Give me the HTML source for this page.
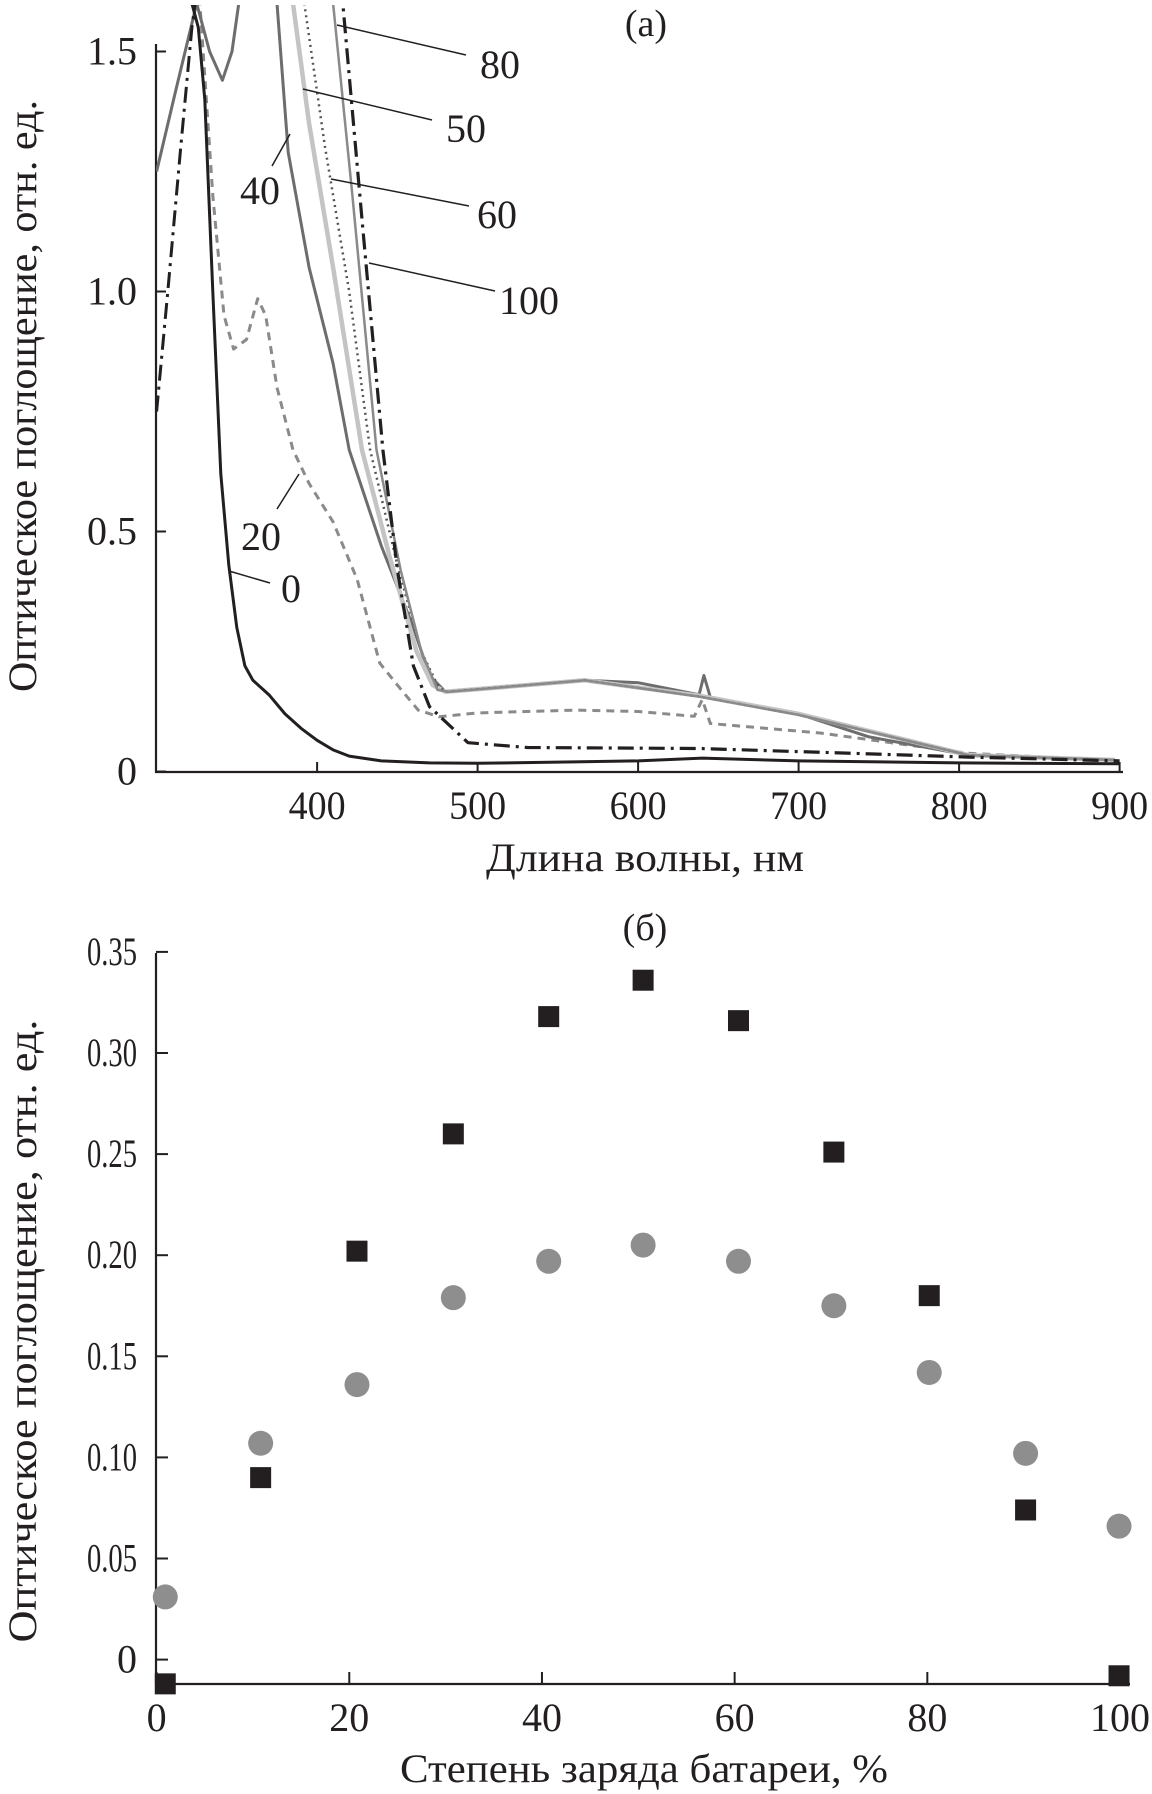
<!DOCTYPE html>
<html><head><meta charset="utf-8"><style>
html,body{margin:0;padding:0;background:#fff}
svg{display:block}
text{font-family:"Liberation Serif",serif;fill:#231f20}
</style></head><body>
<svg id="s" width="1152" height="1794" viewBox="0 0 1152 1794" xmlns="http://www.w3.org/2000/svg">
<defs><clipPath id="clipA"><rect x="156" y="5" width="968" height="767"/></clipPath></defs>
<g id="chartA"></g>
<g id="chartB"></g>
</svg>
<script>
// ---- Chart (a) data: wavelength (nm) and absorbance ----
const wl0 = [300,315,322,326,330,335,340,345,350,355,360,370,380,390,400,410,420,440,470,500,560,600,640,700,800,900];
const ab0 = [1.7,1.7,1.6,1.55,1.4,1.0,0.62,0.43,0.3,0.22,0.19,0.16,0.12,0.09,0.065,0.045,0.032,0.022,0.018,0.017,0.02,0.022,0.028,0.022,0.018,0.016];
const wl20 = [312,320,327,335,342,348,356,363,368,375,385,395,410,425,439,450,463,476,500,561,600,635,640,645,714,806,900];
const ab20 = [1.7,1.7,1.6,1.2,0.95,0.88,0.9,0.985,0.95,0.8,0.67,0.6,0.52,0.4,0.226,0.18,0.128,0.114,0.122,0.128,0.125,0.115,0.15,0.1,0.08,0.038,0.022];
const wl40 = [300,312,325,333,341,347,352,372,375,382,395,410,420,440,460,470,480,567,600,638,641,645,700,744,806,897];
const ab40 = [1.25,1.42,1.6,1.5,1.44,1.5,1.62,1.7,1.6,1.29,1.05,0.85,0.67,0.47,0.3,0.2,0.166,0.19,0.185,0.16,0.2,0.155,0.12,0.072,0.034,0.024];
const wl50 = [383,385,395,410,428,445,462,472,480,567,638,700,806,897];
const ab50 = [1.7,1.6,1.35,1.05,0.67,0.45,0.25,0.18,0.166,0.19,0.158,0.12,0.034,0.024];
const wl60 = [390,392,405,420,433,450,465,475,480,567,638,700,806,897];
const ab60 = [1.7,1.6,1.3,1.0,0.67,0.43,0.25,0.18,0.166,0.19,0.156,0.118,0.034,0.024];
const wl80 = [408,410,422,437,452,465,475,482,567,638,700,806,897];
const ab80 = [1.7,1.6,1.2,0.67,0.42,0.25,0.17,0.166,0.19,0.156,0.118,0.034,0.024];
const wl100L = [300,307,315,322,326];
const ab100L = [0.75,1.0,1.3,1.55,1.65];
const wl100 = [414,416,428,441,450,460,470,494,531,638,714,806,900];
const ab100 = [1.7,1.6,1.15,0.67,0.42,0.22,0.135,0.06,0.05,0.048,0.04,0.03,0.022];
const yTicksA = [0,0.5,1.0,1.5];
const yTickLabelsA = ["0","0.5","1.0","1.5"];
const xTicksA = [400,500,600,700,800,900];

// ---- Chart (b) data ----
const socB = [0.9,10.8,20.8,30.8,40.7,50.5,60.4,70.3,80.2,90.2,99.9];
const squaresB = [-0.012,0.09,0.202,0.26,0.318,0.336,0.316,0.251,0.18,0.074,-0.008];
const circlesB = [0.031,0.107,0.136,0.179,0.197,0.205,0.197,0.175,0.142,0.102,0.066];
const yTicksB = [0,0.05,0.10,0.15,0.20,0.25,0.30,0.35];
const yTickLabelsB = ["0","0.05","0.10","0.15","0.20","0.25","0.30","0.35"];
const xTicksB = [0,20,40,60,80,100];

const NS="http://www.w3.org/2000/svg";
function mk(tag,attrs,parent,txt){const e=document.createElementNS(NS,tag);for(const k in attrs)e.setAttribute(k,attrs[k]);if(txt!==undefined)e.textContent=txt;parent.appendChild(e);return e;}

const xA = nm => 156.6 + (nm-300)*1.605;
const yA = v => 771.5 - v*480;
const xB = p => 156.6 + p*9.634;
const yB = v => 1659.6 - v*2022;

const A=document.getElementById('chartA');
let ax=mk('path',{d:`M156,44 V772 H1123`,fill:'none',stroke:'#231f20','stroke-width':2.2},A);


yTicksA.forEach((t,i)=>{
  const y=yA(t);
  const tk=mk('line',{x1:156,x2:166,y1:y,y2:y,stroke:'#231f20','stroke-width':2},A);
  
  
  const lb=mk('text',{x:137,y:y+13,'font-size':40,'text-anchor':'end'},A,yTickLabelsA[i]);
  
  
});
xTicksA.forEach(t=>{
  const x=xA(t);
  const tk=mk('line',{x1:x,x2:x,y1:772,y2:762,stroke:'#231f20','stroke-width':2},A);
  
  
  const lb=mk('text',{x:x,y:819,'font-size':40,'text-anchor':'middle',textLength:57,lengthAdjust:'spacingAndGlyphs'},A,String(t));
  
  
});
const cg=mk('g',{'clip-path':'url(#clipA)'},A);


function line(wl,ab,style,name){
  const pts=wl.map((w,i)=>xA(w).toFixed(1)+','+yA(ab[i]).toFixed(1)).join(' ');
  const p=mk('polyline',Object.assign({points:pts,fill:'none','stroke-linejoin':'round'},style),cg);
  
  
}
line(wl20,ab20,{stroke:'#8a8a8a','stroke-width':3,'stroke-dasharray':'8,6'},'series-20');
line(wl40,ab40,{stroke:'#6d6d6d','stroke-width':3},'series-40');
line(wl50,ab50,{stroke:'#c4c4c4','stroke-width':4.5},'series-50');
line(wl60,ab60,{stroke:'#555','stroke-width':2.5,'stroke-dasharray':'2,4'},'series-60');
line(wl80,ab80,{stroke:'#8a8a8a','stroke-width':2.5},'series-80');
line(wl100L,ab100L,{stroke:'#231f20','stroke-width':3,'stroke-dasharray':'16,6,3,6'},'series-100-left');
line(wl100,ab100,{stroke:'#231f20','stroke-width':3.2,'stroke-dasharray':'16,6,3,6'},'series-100');
line(wl0,ab0,{stroke:'#231f20','stroke-width':3},'series-0');

const labs=[["80",500,78,337,25,466,55],["50",466,142,303,89,432,120],["40",260,204,290,134,272,166],
["60",497,228,331,179,469,206],["100",529,314,369,263,495,291],["20",261,550,299,474,277,509],["0",291,602,229,571,270,583]];
labs.forEach(l=>{
  const ln=mk('line',{x1:l[3],y1:l[4],x2:l[5],y2:l[6],stroke:'#231f20','stroke-width':1.5},A);
  
  
  const t=mk('text',{x:l[1],y:l[2],'font-size':40,'text-anchor':'middle'},A,l[0]);
  
  
});
let t1=mk('text',{x:646,y:36,'font-size':38,'text-anchor':'middle'},A,'(a)');


let t2=mk('text',{x:645,y:871,'font-size':40,'text-anchor':'middle',textLength:318,lengthAdjust:'spacingAndGlyphs'},A,'Длина волны, нм');


let t3=mk('text',{x:0,y:0,'font-size':40,'text-anchor':'middle',textLength:592,lengthAdjust:'spacingAndGlyphs',transform:'translate(36,396) rotate(-90)'},A,'Оптическое поглощение, отн. ед.');



const B=document.getElementById('chartB');
let bx=mk('path',{d:`M156,953 V1684 H1130`,fill:'none',stroke:'#231f20','stroke-width':2.2},B);


yTicksB.forEach((t,i)=>{
  const y=yB(t);
  const tk=mk('line',{x1:156,x2:168,y1:y,y2:y,stroke:'#231f20','stroke-width':2},B);
  
  
  const at={x:137,y:y+13,'font-size':40,'text-anchor':'end'};
  if(yTickLabelsB[i].length>1){at.textLength=50;at.lengthAdjust='spacingAndGlyphs';}
  const lb=mk('text',at,B,yTickLabelsB[i]);
  
  
});
xTicksB.forEach(t=>{
  const x=xB(t);
  const tk=mk('line',{x1:x,x2:x,y1:1684,y2:1672,stroke:'#231f20','stroke-width':2},B);
  
  
  const lb=mk('text',{x:x,y:1731,'font-size':40,'text-anchor':'middle'},B,String(t));
  
  
});
socB.forEach((p,i)=>{
  const c=mk('circle',{cx:xB(p),cy:yB(circlesB[i]),r:12.5,fill:'#8e8e8e'},B);
  
  
  const s=mk('rect',{x:xB(p)-10.5,y:yB(squaresB[i])-10.5,width:21,height:21,fill:'#231f20'},B);
  
  
});
let t4=mk('text',{x:645,y:940,'font-size':38,'text-anchor':'middle'},B,'(б)');


let t5=mk('text',{x:644,y:1782,'font-size':40,'text-anchor':'middle',textLength:488,lengthAdjust:'spacingAndGlyphs'},B,'Степень заряда батареи, %');


let t6=mk('text',{x:0,y:0,'font-size':40,'text-anchor':'middle',textLength:623,lengthAdjust:'spacingAndGlyphs',transform:'translate(36,1331) rotate(-90)'},B,'Оптическое поглощение, отн. ед.');


</script>
</body></html>
